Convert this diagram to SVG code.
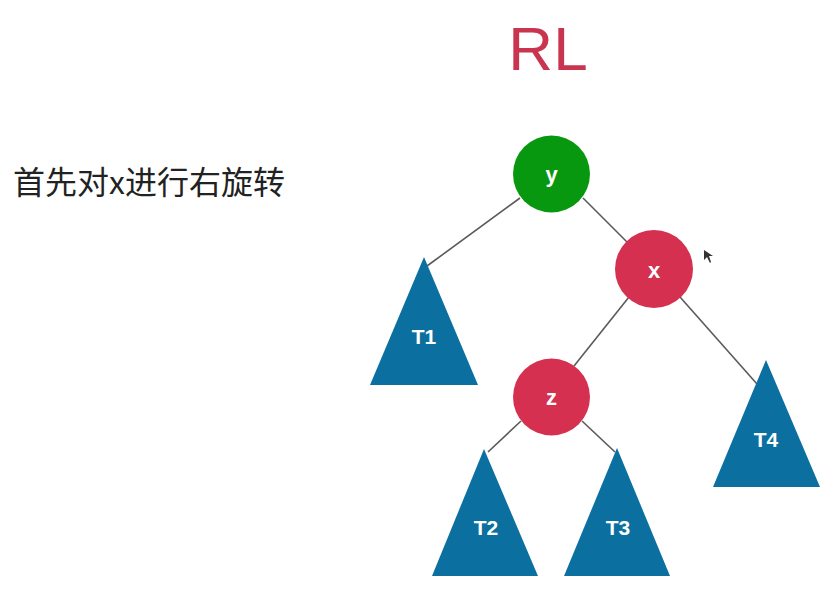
<svg xmlns="http://www.w3.org/2000/svg" width="833" height="603" viewBox="0 0 833 603">
<style>
.edge{stroke:#5a5a5a;stroke-width:1.6;fill:none}
.red{fill:#d5304f}
.green{fill:#08980f}
.tri{fill:#0b6fa0}
.lbl{font-family:"Liberation Sans",Arial,sans-serif;font-weight:bold;fill:#ffffff;text-anchor:middle}
</style>
<rect width="833" height="603" fill="#ffffff"/>
<text x="548" y="70" font-family="Liberation Sans, Arial, sans-serif" font-size="62" fill="#c9354f" text-anchor="middle">RL</text>
<text x="13" y="194" font-family="'Noto Sans CJK SC', 'Liberation Sans', sans-serif" font-size="32" fill="#222222">首先对x进行右旋转</text>
<g id="connectors">
<line class="edge" x1="520" y1="198" x2="427" y2="266"/>
<line class="edge" x1="583" y1="198" x2="627" y2="242"/>
<line class="edge" x1="629" y1="297" x2="574" y2="366"/>
<line class="edge" x1="680" y1="297" x2="757" y2="384"/>
<line class="edge" x1="521" y1="421" x2="488" y2="452"/>
<line class="edge" x1="582" y1="421" x2="615" y2="452"/>
</g>
<g id="T1"><polygon class="tri" points="424,257 370,385 478,385"/><text class="lbl" x="424" y="344" font-size="21">T1</text></g>
<g id="T2"><polygon class="tri" points="484,449 432,576 538,576"/><text class="lbl" x="486" y="535" font-size="21">T2</text></g>
<g id="T3"><polygon class="tri" points="617,448 564,576 670,576"/><text class="lbl" x="618" y="535" font-size="21">T3</text></g>
<g id="T4"><polygon class="tri" points="766,360 713,487 820,487"/><text class="lbl" x="766" y="447" font-size="21">T4</text></g>
<g id="y"><circle class="green" cx="551.5" cy="174" r="38.5"/><text class="lbl" x="551.5" y="182" font-size="22">y</text></g>
<g id="x"><circle class="red" cx="654" cy="269" r="39"/><text class="lbl" x="654" y="278" font-size="22">x</text></g>
<g id="z"><circle class="red" cx="551.5" cy="397" r="38.5"/><text class="lbl" x="551.5" y="405" font-size="22">z</text></g>
<polygon points="704,250 704,260 707,257 710,263 711,262 709,256 713,256" fill="#333333"/>
</svg>
